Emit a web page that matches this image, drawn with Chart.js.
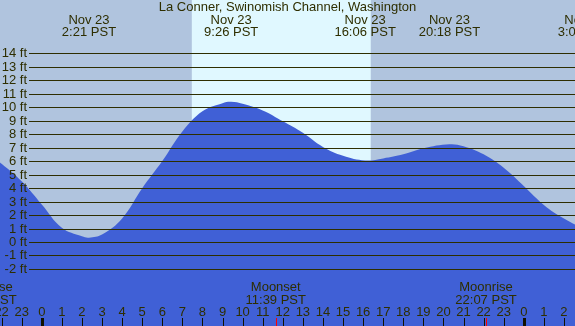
<!DOCTYPE html>
<html>
<head>
<meta charset="utf-8">
<script src="https://cdn.jsdelivr.net/npm/chart.js@4/dist/chart.umd.min.js"></script>
<style>
  body { margin: 0; background: #b0c4de; }
  canvas { display: block; }
</style>
</head>
<body>
<canvas id="chart" width="575" height="326"></canvas>
<script>
const title = "La Conner, Swinomish Channel, Washington";

// tide height (ft), hours from midnight Nov 23 PST
const tideHours = [-3, -2, -1, 0, 1, 2, 2.35, 3, 4, 5, 6, 7, 8, 9, 9.43, 10, 11, 12, 13, 14, 15, 16.1, 17, 18, 19, 20.3, 21, 22, 23, 24, 25, 26, 27.04, 28];
const tideFeet = [7.0, 5.8, 4.5, 2.78, 1.05, 0.42, 0.32, 0.55, 1.75, 3.98, 6.0, 8.2, 9.7, 10.3, 10.4, 10.25, 9.75, 8.95, 8.1, 7.05, 6.4, 6.05, 6.2, 6.5, 6.95, 7.25, 7.1, 6.5, 5.5, 4.15, 2.75, 1.75, 1.1, 1.4];

// high / low labels at the top
const tideTimes = [2.35, 9.43, 16.1, 20.3, 27.04];
const tideDates = ["Nov 23", "Nov 23", "Nov 23", "Nov 23", "Nov 24"];
const tideLabels = ["2:21 PST", "9:26 PST", "16:06 PST", "20:18 PST", "3:02 PST"];

// moon events at the bottom
const moonTimes = [-2.78, 11.65, 22.12];
const moonNames = ["Moonrise", "Moonset", "Moonrise"];
const moonLabels = ["21:13 PST", "11:39 PST", "22:07 PST"];

// sunrise / sunset
const sunTimes = [7.47, 16.38];

const feetTicks = [-2, -1, 0, 1, 2, 3, 4, 5, 6, 7, 8, 9, 10, 11, 12, 13, 14];
const hourTicks = [-2, -1, 0, 1, 2, 3, 4, 5, 6, 7, 8, 9, 10, 11, 12, 13, 14, 15, 16, 17, 18, 19, 20, 21, 22, 23, 24, 25, 26];

const nightColor = "#b0c4de";
const dayColor = "#e0f8ff";
const waterColor = "#4060d6";
const inkColor = "#2e2e00";
const font = "13px 'Liberation Sans', Arial, sans-serif";

const backdrop = {
    id: "backdrop",
    beforeDraw(c) {
        const ctx = c.ctx;
        const x = c.scales.x;
        ctx.save();
        ctx.fillStyle = nightColor;
        ctx.fillRect(0, 0, c.width, c.height);
        const x0 = x.getPixelForValue(sunTimes[0]);
        const x1 = x.getPixelForValue(sunTimes[1]);
        ctx.fillStyle = dayColor;
        ctx.fillRect(x0, 0, x1 - x0, c.height);
        ctx.restore();
    },
    afterDatasetsDraw(c) {
        const ctx = c.ctx;
        const x = c.scales.x;
        const y = c.scales.y;
        ctx.save();
        ctx.font = font;
        ctx.fillStyle = inkColor;

        // grid lines + feet labels
        ctx.strokeStyle = inkColor;
        ctx.lineWidth = 1;
        ctx.textAlign = "right";
        ctx.textBaseline = "middle";
        feetTicks.forEach(v => {
            const py = Math.round(y.getPixelForValue(v)) + 0.5;
            ctx.beginPath();
            ctx.moveTo(29, py);
            ctx.lineTo(c.width, py);
            ctx.stroke();
            ctx.fillText(v + " ft", 27, py);
        });

        // title and tide times
        ctx.textAlign = "center";
        ctx.textBaseline = "alphabetic";
        ctx.fillText(title, c.width / 2, 11);
        tideTimes.forEach((t, i) => {
            const px = x.getPixelForValue(t);
            ctx.fillText(tideDates[i], px, 24);
            ctx.fillText(tideLabels[i], px, 36);
        });

        // moon events
        moonTimes.forEach((t, i) => {
            const px = x.getPixelForValue(t);
            ctx.fillText(moonNames[i], px, 291);
            ctx.fillText(moonLabels[i], px, 304);
            ctx.fillStyle = "#ff0000";
            ctx.fillRect(Math.round(px), 318, 1, 8);
            ctx.fillStyle = inkColor;
        });

        // hour labels and ticks
        hourTicks.forEach(h => {
            const px = x.getPixelForValue(h);
            ctx.fillText(String((h + 24) % 24), px, 316);
            ctx.fillStyle = "#111100";
            if (h % 24 === 0) {
                ctx.fillRect(Math.round(px) - 1, 318, 3, 8);
            } else {
                ctx.fillRect(Math.round(px), 318, 1, 8);
            }
            ctx.fillStyle = inkColor;
        });
        ctx.restore();
    }
};

const points = tideHours.map((h, i) => ({ x: h, y: tideFeet[i] }));

const chart = new Chart(document.getElementById("chart").getContext("2d"), {
    type: "line",
    data: {
        datasets: [{
            data: points,
            fill: "start",
            backgroundColor: waterColor,
            borderColor: waterColor,
            borderWidth: 0,
            pointRadius: 0,
            tension: 0.4
        }]
    },
    options: {
        responsive: false,
        animation: false,
        devicePixelRatio: 1,
        layout: { padding: 0 },
        plugins: { legend: { display: false }, tooltip: { enabled: false } },
        scales: {
            x: { type: "linear", min: -2.08, max: 26.55, display: false },
            y: { min: -6.23, max: 17.95, display: false }
        }
    },
    plugins: [backdrop]
});
</script>
</body>
</html>
